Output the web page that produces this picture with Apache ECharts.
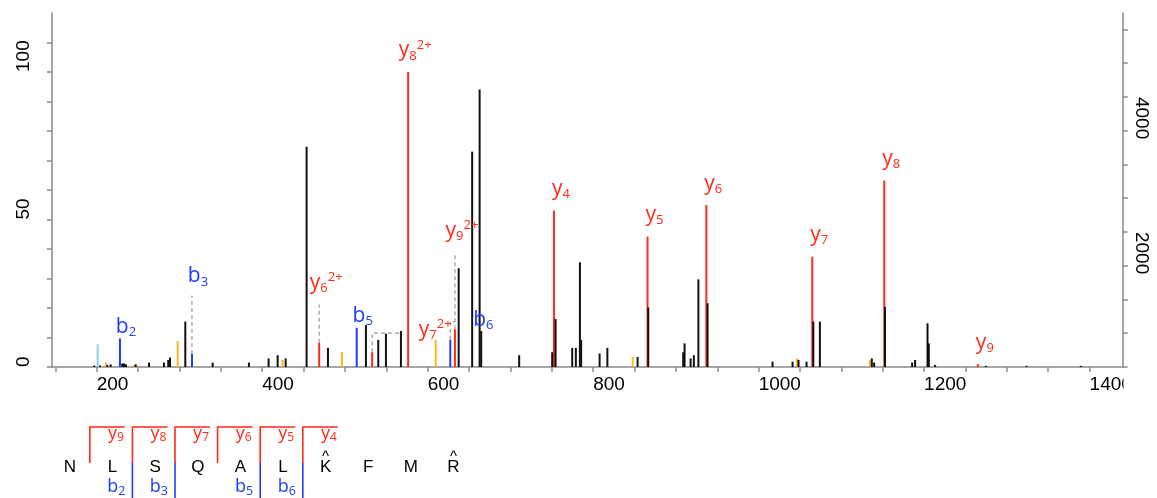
<!DOCTYPE html>
<html>
<head>
<meta charset="utf-8">
<script src="https://cdn.jsdelivr.net/npm/echarts@6/dist/echarts.min.js"></script>
<style>
html, body { margin: 0; padding: 0; background: #fff; }
#spec { width: 1157px; height: 498px; }
</style>
</head>
<body>
<div id="spec"></div>
<script>
// unassigned peaks: m/z and relative intensity (%)
var otherMz = [197.1, 204.0, 212.8, 216.9, 230.9, 233.0, 235.4, 247.1, 263.2, 281.3, 286.5, 288.6, 307.1, 340.2, 384.0, 407.8, 418.7, 428.4, 453.7, 479.5, 525.4, 540.3, 549.6, 567.7, 637.5, 653.8, 662.8, 664.7, 710.6, 750.5, 754.6, 774.7, 779.1, 784.0, 785.5, 807.8, 817.2, 853.7, 866.6, 908.8, 910.5, 917.8, 921.7, 927.2, 938.3, 1016.8, 1041.0, 1048.2, 1057.9, 1066.1, 1074.0, 1136.8, 1139.6, 1152.7, 1185.5, 1189.1, 1204.1, 1205.7, 1213.3, 1274.6, 1323.7, 1389.3];
var otherInt = [0.5, 0.5, 0.7, 0.9, 1.2, 1.2, 0.9, 0.9, 1.5, 1.5, 2.4, 3.2, 15.4, 1.5, 1.5, 2.9, 4.0, 2.9, 74.7, 6.5, 14.2, 9.2, 11.3, 12.2, 33.5, 73.0, 94.1, 12.2, 4.0, 5.0, 16.3, 6.5, 6.5, 35.5, 9.2, 4.6, 6.5, 3.4, 20.2, 5.0, 8.0, 2.9, 4.0, 29.7, 21.6, 1.8, 1.8, 2.4, 1.8, 15.4, 15.4, 2.9, 1.5, 20.4, 1.5, 2.4, 14.8, 8.0, 0.7, 0.4, 0.4, 0.4];

// neutral-loss peaks (orange) and immonium (light blue)
var lossMz = [211.2, 245.1, 297.9, 424.7, 496.4, 609.7, 847.8, 1046.5, 1134.4];
var lossInt = [1.5, 0.7, 8.8, 2.4, 5.0, 9.2, 3.4, 2.9, 2.4];
var immMz = [201.2];
var immInt = [7.7];

// assigned fragment ions
var yIonName = ['y6|2+', 'y7|2+', 'y8|2+', 'y9|2+', 'y4', 'y5', 'y6', 'y7', 'y8', 'y9'];
var yIonMz = [468.89, 532.92, 576.43, 632.97, 752.65, 865.73, 936.77, 1064.83, 1151.86, 1264.94];
var yIonInt = [8.2, 5.0, 100, 12.8, 53.0, 44.2, 54.9, 37.4, 63.2, 1.0];
var bIonName = ['b2', 'b3', 'b5', 'b6'];
var bIonMz = [228.13, 315.17, 514.26, 627.35];
var bIonInt = [9.7, 4.4, 13.3, 9.2];

// dashed label leaders, in (m/z, %) pairs
var leaders = [
  [[315.17, 4.4], [315.17, 24.2]],
  [[468.89, 8.2], [468.89, 21.2]],
  [[532.92, 5.0], [532.92, 11.5], [567.7, 11.5]],
  [[627.35, 9.2], [627.35, 15.4], [632.97, 15.4]],
  [[632.97, 12.8], [632.97, 38.9]]
];
// label anchor heights (top of leader or peak)
var labelTop = {'b2': 9.7, 'b3': 24.2, 'b5': 13.3, 'b6': 9.2, 'y6|2+': 21.2, 'y7|2+': 5.0, 'y8|2+': 100, 'y9|2+': 38.9,
  'y4': 53.0, 'y5': 44.2, 'y6': 54.9, 'y7': 37.4, 'y8': 63.2, 'y9': 1.0};

// peptide
var seqLetters = ['N', 'L', 'S', 'Q', 'A', 'L', 'K', 'F', 'M', 'R'];
var seqModified = [false, false, false, false, false, false, true, false, false, true];
var yCoverage = [9, 8, 7, 6, 5, 4];
var bCoverage = [2, 3, 5, 6];

var xTicks = [200, 400, 600, 800, 1000, 1200, 1400];
var relTicks = [0, 50, 100];
var absTicks = [2000, 4000];

var RED = '#ff2a1a', BLUE = '#1e3cff', ORANGE = '#ffb41e', LIGHTBLUE = '#8ccfee', BLACK = '#111111';
var AXIS = '#8a8a8a';
var LABEL_FONT = 'Open Sans';

// minor tick positions
function steps(from, to, by) {
  var out = [];
  for (var v = from; v <= to + 1e-9; v += by) out.push(v);
  return out;
}

// label nudges in px: [dx of text centre from peak, baseline gap above anchor]
var labelNudge = {'b3': [6, 14], 'b6': [33, 15], 'y7|2+': [63, 17]};

function sticks(mz, inten, color, z) {
  return {
    type: 'custom', z: z, silent: true, animation: false,
    data: mz.map(function (m, i) { return [m, inten[i]]; }),
    renderItem: function (params, api) {
      var b = api.coord([api.value(0), 0]);
      var t = api.coord([api.value(0), api.value(1)]);
      return {type: 'line', shape: {x1: b[0], y1: b[1], x2: t[0], y2: t[1]},
        style: {stroke: color, lineWidth: 2}};
    }
  };
}

function richName(name) {
  var parts = name.split('|');
  var s = '{m|' + parts[0].charAt(0) + '}{s|' + parts[0].slice(1) + '}';
  if (parts[1]) s += '{p|' + parts[1] + '}';
  return s;
}

function ionLabels(names, mz, color) {
  return {
    type: 'custom', z: 20, silent: true, animation: false,
    data: names.map(function (n, i) { return [mz[i], labelTop[n], i]; }),
    renderItem: function (params, api) {
      var n = names[api.value(2)];
      var p = api.coord([api.value(0), api.value(1)]);
      var isB = n.charAt(0) === 'b';
      var nudge = labelNudge[n] || [isB ? 6 : 7, isB ? 6.5 : 16.3];
      return {
        type: 'text', x: p[0] + nudge[0], y: p[1] - nudge[1] + 6.8,
        style: {
          text: richName(n), align: 'center', verticalAlign: 'bottom',
          rich: {
            m: {fontFamily: LABEL_FONT, fontSize: 21, lineHeight: 24, fill: color, color: color},
            s: {fontFamily: LABEL_FONT, fontSize: 13, lineHeight: 14, verticalAlign: 'bottom', fill: color, color: color},
            p: {fontFamily: LABEL_FONT, fontSize: 13, lineHeight: 24, verticalAlign: 'top', fill: color, color: color}
          }
        }
      };
    }
  };
}

// sequence panel below the spectrum
var panel = {x0: 70, step: 42.6, letterY: 467, topY: 427, midY: 463, bottomY: 500, arm: 35};
function boundaryX(k) { return panel.x0 + panel.step * (k - 0.5) - 1.5; }
var panelEls = [];
seqLetters.forEach(function (c, i) {
  var cx = panel.x0 + panel.step * i;
  panelEls.push({type: 'text', x: cx, y: panel.letterY, silent: true,
    style: {text: c, font: '17px "Liberation Sans"', fill: '#000', align: 'center', verticalAlign: 'middle'}});
  if (seqModified[i]) {
    panelEls.push({type: 'text', x: cx, y: panel.letterY - 10.5, silent: true,
      style: {text: '^', font: '15px "Liberation Sans"', fill: '#000', align: 'center', verticalAlign: 'middle'}});
  }
});
yCoverage.forEach(function (n) {
  var bx = boundaryX(seqLetters.length - n);
  panelEls.push({type: 'polyline', silent: true,
    shape: {points: [[bx, panel.midY], [bx, panel.topY], [bx + panel.arm, panel.topY]]},
    style: {stroke: RED, lineWidth: 1.6, fill: null}});
  panelEls.push({type: 'text', x: bx + panel.arm - 1, y: 444, silent: true,
    style: {text: '{m|y}{s|' + n + '}', align: 'right', verticalAlign: 'bottom',
      rich: {m: {fontFamily: LABEL_FONT, fontSize: 18, lineHeight: 21, fill: RED, color: RED},
             s: {fontFamily: LABEL_FONT, fontSize: 12, lineHeight: 13, verticalAlign: 'bottom', fill: RED, color: RED}}}});
});
bCoverage.forEach(function (n) {
  var bx = boundaryX(n);
  panelEls.push({type: 'line', silent: true,
    shape: {x1: bx, y1: panel.midY, x2: bx, y2: panel.bottomY},
    style: {stroke: BLUE, lineWidth: 1.6}});
  panelEls.push({type: 'text', x: bx - 7, y: 498, silent: true,
    style: {text: '{m|b}{s|' + n + '}', align: 'right', verticalAlign: 'bottom',
      rich: {m: {fontFamily: LABEL_FONT, fontSize: 18, lineHeight: 22, fill: BLUE, color: BLUE},
             s: {fontFamily: LABEL_FONT, fontSize: 12.5, lineHeight: 14, verticalAlign: 'bottom', fill: BLUE, color: BLUE}}}});
});
// the right axis cuts off the last m/z label
panelEls.push({type: 'rect', z: 100, silent: true, shape: {x: 1123.5, y: 372, width: 40, height: 26}, style: {fill: '#fff'}});

var dom = document.getElementById('spec');
var myChart = echarts.init(dom, null, {renderer: 'canvas'});

var axisLabelBase = {color: '#000', fontFamily: 'Liberation Sans', fontSize: 19,
  formatter: function (v) { return String(v); }};

var option = {
  animation: false,
  backgroundColor: '#fff',
  grid: {left: 52, right: 34.3, top: 13, bottom: 131, containLabel: false},
  xAxis: {
    type: 'value', min: 146, max: 1440, offset: 2,
    splitLine: {show: false},
    axisLine: {show: true, lineStyle: {color: AXIS, width: 1.5}},
    axisTick: {show: true, length: 5, customValues: steps(150, 1400, 50), lineStyle: {color: AXIS, width: 1.5}},
    axisLabel: Object.assign({}, axisLabelBase, {margin: 6, align: 'left', customValues: xTicks})
  },
  yAxis: [{
    type: 'value', min: 0, max: 120, position: 'left',
    splitLine: {show: false},
    axisLine: {show: true, lineStyle: {color: AXIS, width: 1.5}},
    axisTick: {show: true, length: 5, customValues: steps(0, 110, 10), lineStyle: {color: AXIS, width: 1.5}},
    axisLabel: Object.assign({}, axisLabelBase, {
      rotate: 90, margin: 19, align: 'left', verticalAlign: 'bottom', customValues: relTicks
    })
  }, {
    type: 'value', min: 0, max: 5244, position: 'right',
    splitLine: {show: false},
    axisLine: {show: true, lineStyle: {color: AXIS, width: 1.5}},
    axisTick: {show: true, length: 5, customValues: steps(0, 5000, 500), lineStyle: {color: AXIS, width: 1.5}},
    axisLabel: Object.assign({}, axisLabelBase, {
      rotate: -90, margin: 9.5, align: 'left', verticalAlign: 'bottom', customValues: absTicks
    })
  }],
  graphic: {elements: panelEls},
  series: [
    {
      type: 'lines', coordinateSystem: 'cartesian2d', polyline: true, z: 1, silent: true, animation: false,
      lineStyle: {color: '#9a9a9a', width: 1.2, type: [4, 3], opacity: 1},
      data: leaders.map(function (c) { return {coords: c}; })
    },
    sticks(immMz, immInt, LIGHTBLUE, 2),
    sticks(lossMz, lossInt, ORANGE, 2),
    sticks(yIonMz, yIonInt, RED, 3),
    sticks(bIonMz, bIonInt, BLUE, 3),
    sticks(otherMz, otherInt, BLACK, 4),
    ionLabels(yIonName, yIonMz, RED),
    ionLabels(bIonName, bIonMz, BLUE)
  ]
};

if (option && typeof option === 'object') {
  myChart.setOption(option, true);
}
</script>
</body>
</html>
